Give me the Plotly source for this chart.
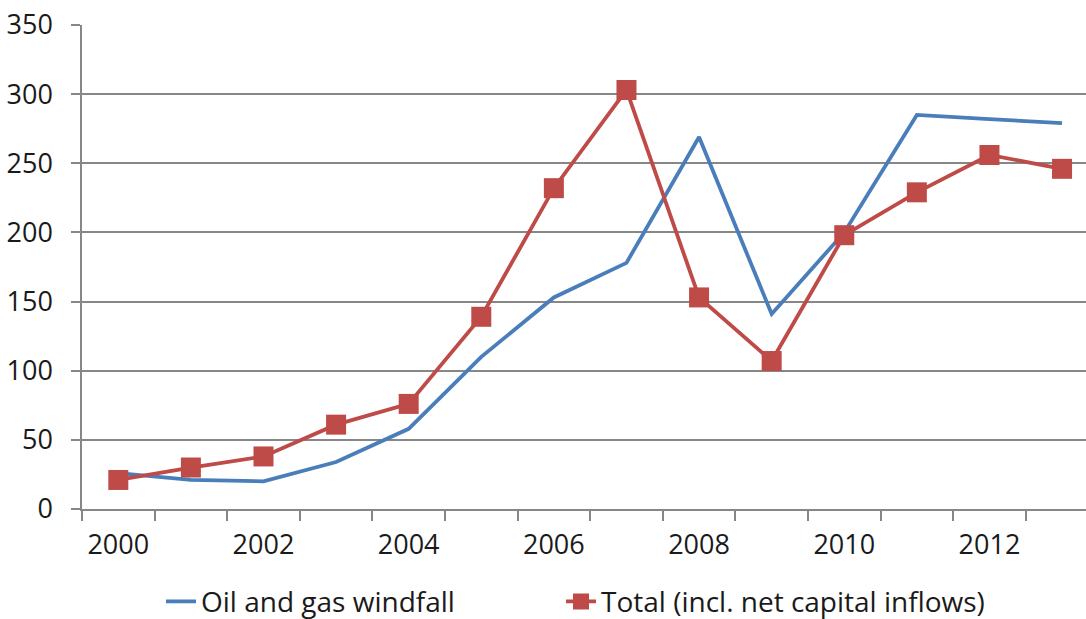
import plotly.graph_objects as go

years = list(range(2000, 2014))
oil_gas = [26, 21, 20, 34, 58, 110, 153, 178, 269, 141, 200, 285, 282, 279]
total = [21, 30, 38, 61, 76, 139, 232, 303, 153, 107, 198, 229, 256, 246]
y_ticks = [0, 50, 100, 150, 200, 250, 300, 350]
x_labels = [2000, 2002, 2004, 2006, 2008, 2010, 2012]

BLUE = "#4A7EBB"
RED = "#BE4B48"
GRID = "#878787"
FONT = "Open Sans, Liberation Sans, sans-serif"

fig = go.Figure()
fig.add_trace(go.Scatter(
    x=years, y=oil_gas, mode="lines", name="Oil and gas windfall",
    line=dict(color=BLUE, width=3.8), legend="legend",
))
fig.add_trace(go.Scatter(
    x=years, y=total, mode="lines+markers", name="Total (incl. net capital inflows)",
    line=dict(color=RED, width=3.8),
    marker=dict(symbol="square", size=20, color=RED), legend="legend2",
))

legend_common = dict(orientation="h", xanchor="left", y=-0.14, yanchor="top",
                     font=dict(size=28), itemwidth=30, bgcolor="rgba(0,0,0,0)")
fig.update_layout(
    width=1086, height=619,
    margin=dict(l=82, r=0, t=25, b=110, autoexpand=False),
    paper_bgcolor="white", plot_bgcolor="white",
    font=dict(family=FONT, size=27, color="#1a1a1a"),
    showlegend=True,
    legend=dict(x=(161 - 82) / 1004, **legend_common),
    legend2=dict(x=(561 - 82) / 1004, **legend_common),
)
fig.update_xaxes(
    range=[years[0] - 0.5, years[-1] + 0.33],
    tickvals=x_labels, ticktext=[str(v) for v in x_labels],
    ticks="", showgrid=False, zeroline=False,
    showline=True, linecolor=GRID, linewidth=1.5,
    ticklabelstandoff=11,
    minor=dict(
        tickvals=[y - 0.5 for y in years] + [years[-1] + 0.5],
        ticks="outside", ticklen=10, tickcolor=GRID, tickwidth=1.5, showgrid=False,
    ),
)
fig.update_yaxes(
    range=[0, 350], tickvals=y_ticks,
    showgrid=True, gridcolor=GRID, gridwidth=1.5,
    zeroline=False, showline=True, linecolor=GRID, linewidth=1.5,
    ticks="outside", ticklen=9, tickcolor=GRID, tickwidth=1.5,
    ticklabelstandoff=13, ticklabeloverflow="allow",
)

fig.write_html(
    "out.html",
    config={"displayModeBar": False},
    post_script="document.body.style.margin='0';document.body.style.overflow='hidden';",
)
